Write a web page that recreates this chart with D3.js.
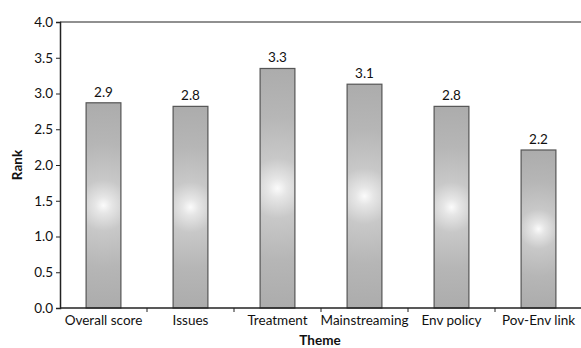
<!DOCTYPE html>
<html><head><meta charset="utf-8">
<script src="https://cdn.jsdelivr.net/npm/d3@7"></script>
<style>body{margin:0;background:#fff}svg{display:block}text{font-family:Lato,"Open Sans",sans-serif}</style>
</head><body><div id="chart"></div>
<script>
const categories = ["Overall score","Issues","Treatment","Mainstreaming","Env policy","Pov-Env link"];
const values = [2.87, 2.82, 3.35, 3.13, 2.82, 2.21];
const valueLabels = ["2.9","2.8","3.3","3.1","2.8","2.2"];
const yTicks = [0,0.5,1,1.5,2,2.5,3,3.5,4];

const W = 581, H = 348, FS = 13.5;
const m = {top:22, right:0, bottom:40, left:60};
const svg = d3.select("#chart").append("svg").attr("width",W).attr("height",H);
const x = d3.scaleBand().domain(categories).range([m.left, W - m.right + 1]).paddingInner(0.6).paddingOuter(0.3);
const y = d3.scaleLinear().domain([0,4]).range([H - m.bottom, m.top]);
const defs = svg.append("defs");

// top border
svg.append("line").attr("x1",m.left).attr("x2",W).attr("y1",y(4)).attr("y2",y(4))
  .attr("stroke","#6b6b6b").attr("stroke-width",1.5);

categories.forEach((c,i)=>{
  const x0 = x(c), bw = x.bandwidth(), y0 = y(values[i]), h = y(0)-y0;
  const g = defs.append("radialGradient").attr("id","g"+i).attr("gradientUnits","userSpaceOnUse")
    .attr("cx", x0+bw/2).attr("cy", y0+h/2).attr("r", h/2);
  [[0,"#fbfbfb"],[0.08,"#e6e6e6"],[0.25,"#c8c8c8"],[0.6,"#b6b6b6"],[1,"#acacac"]].forEach(s=>
    g.append("stop").attr("offset",s[0]).attr("stop-color",s[1]));
  svg.append("rect").attr("x",x0).attr("y",y0).attr("width",bw).attr("height",h)
    .attr("fill","url(#g"+i+")").attr("stroke","#555").attr("stroke-width",1.2);
  svg.append("text").attr("x",x0+bw/2).attr("y",y0-6).attr("text-anchor","middle")
    .attr("font-size",FS).attr("fill","#111").text(valueLabels[i]);
});

const yAxis = svg.append("g").attr("transform",`translate(${m.left},0)`)
  .call(d3.axisLeft(y).tickValues(yTicks).tickFormat(d3.format(".1f")).tickSize(4));
yAxis.select(".domain").attr("stroke","#222").attr("stroke-width",1.5);
yAxis.selectAll("text").attr("font-size",FS).attr("fill","#111").attr("x",-7);
yAxis.selectAll(".tick line").attr("stroke","#222");

const xAxis = svg.append("g").attr("transform",`translate(0,${y(0)})`);
const step = x.step();
xAxis.append("line").attr("x1",m.left).attr("x2",W).attr("y1",0).attr("y2",0).attr("stroke","#222").attr("stroke-width",1.5);
categories.forEach((c,i)=>{
  const bx = x(c)+x.bandwidth()/2;
  if(i>0){ const tx = bx - step/2;
    xAxis.append("line").attr("x1",tx).attr("x2",tx).attr("y1",0).attr("y2",4).attr("stroke","#222"); }
  xAxis.append("text").attr("x",bx).attr("y",17).attr("text-anchor","middle")
    .attr("font-size",FS).attr("fill","#111").text(c);
});

svg.append("text").attr("x",320).attr("y",345).attr("text-anchor","middle")
  .attr("font-size",FS).attr("font-weight","bold").attr("fill","#111").text("Theme");
svg.append("text").attr("transform","translate(22,165) rotate(-90)").attr("text-anchor","middle")
  .attr("font-size",FS).attr("font-weight","bold").attr("fill","#111").text("Rank");
</script></body></html>
